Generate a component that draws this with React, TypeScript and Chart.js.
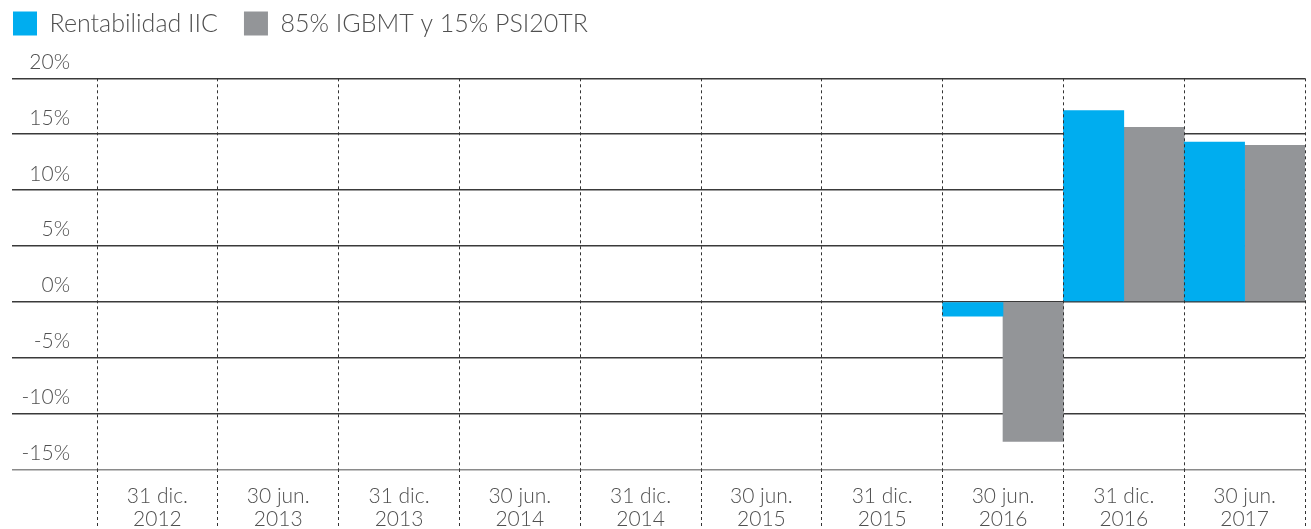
import React, { useEffect, useRef } from "react";
import { Chart, registerables } from "chart.js";

Chart.register(...registerables);

const categories: string[][] = [
  ["31 dic.", "2012"],
  ["30 jun.", "2013"],
  ["31 dic.", "2013"],
  ["30 jun.", "2014"],
  ["31 dic.", "2014"],
  ["30 jun.", "2015"],
  ["31 dic.", "2015"],
  ["30 jun.", "2016"],
  ["31 dic.", "2016"],
  ["30 jun.", "2017"],
];

const rentabilidadIIC: (number | null)[] = [null, null, null, null, null, null, null, -1.3, 17.1, 14.3];
const benchmark: (number | null)[] = [null, null, null, null, null, null, null, -12.5, 15.6, 14.0];

const seriesNames = ["Rentabilidad IIC", "85% IGBMT y 15% PSI20TR"];
const yMin = -15;
const yMax = 20;
const yStep = 5;

const FONT = "Lato";
const TEXT = "#505050";

export default function App() {
  const ref = useRef<HTMLCanvasElement | null>(null);

  useEffect(() => {
    if (!ref.current) return;
    const chart = new Chart(ref.current, {
      type: "bar",
      data: {
        labels: categories,
        datasets: [
          {
            label: seriesNames[0],
            data: rentabilidadIIC,
            backgroundColor: "#00ADEF",
            borderWidth: 0,
            categoryPercentage: 1,
            barPercentage: 1,
          },
          {
            label: seriesNames[1],
            data: benchmark,
            backgroundColor: "#939598",
            borderWidth: 0,
            categoryPercentage: 1,
            barPercentage: 1,
          },
        ],
      },
      options: {
        responsive: false,
        animation: false,
        layout: { padding: { top: -15, left: -13, right: 6, bottom: 0 } },
        plugins: {
          legend: {
            position: "top",
            align: "start",
            weight: 1000,
            labels: {
              boxWidth: 24,
              boxHeight: 24,
              padding: 26,
              color: TEXT,
              font: { family: FONT, size: 25, weight: "300" },
            },
          } as any,
          title: {
            display: true,
            text: "",
            weight: 500,
            font: { size: 10, lineHeight: 1 },
            padding: { top: 22.3, bottom: 0 },
          } as any,
          tooltip: { enabled: false },
        },
        scales: {
          x: {
            offset: true,
            afterFit: (s: any) => {
              s.height = 59.7;
            },
            grid: {
              z: 1,
              offset: true,
              color: "#333",
              lineWidth: 1,
              drawTicks: true,
              tickLength: 59.7,
              tickBorderDash: [3, 3],
            },
            border: { display: false, dash: [3, 3] },
            ticks: {
              autoSkip: false,
              maxRotation: 0,
              minRotation: 0,
              padding: -45,
              color: TEXT,
              font: { family: FONT, size: 21, weight: "300", lineHeight: 1.12 },
            },
          },
          y: {
            min: yMin,
            max: yMax,
            afterFit: (s: any) => {
              s.width = 110;
            },
            grid: {
              color: (c: any) => (c.tick && c.tick.value === yMin ? "#8a8a8a" : "#3a3a3a"),
              lineWidth: 1.5,
              drawTicks: true,
              tickLength: 85,
            },
            border: { display: false },
            ticks: {
              autoSkip: false,
              stepSize: yStep,
              padding: -58,
              color: TEXT,
              font: { family: FONT, size: 21, weight: "300", lineHeight: 1.55 },
              callback: (v: any) => [v + "%", ""],
            },
          },
        },
      } as any,
    });
    return () => chart.destroy();
  }, []);

  return (
    <div style={{ position: "fixed", left: 0, top: 0, width: 1311, height: 529, background: "#fff" }}>
      <canvas ref={ref} width={1311} height={529} style={{ display: "block" }} />
    </div>
  );
}
